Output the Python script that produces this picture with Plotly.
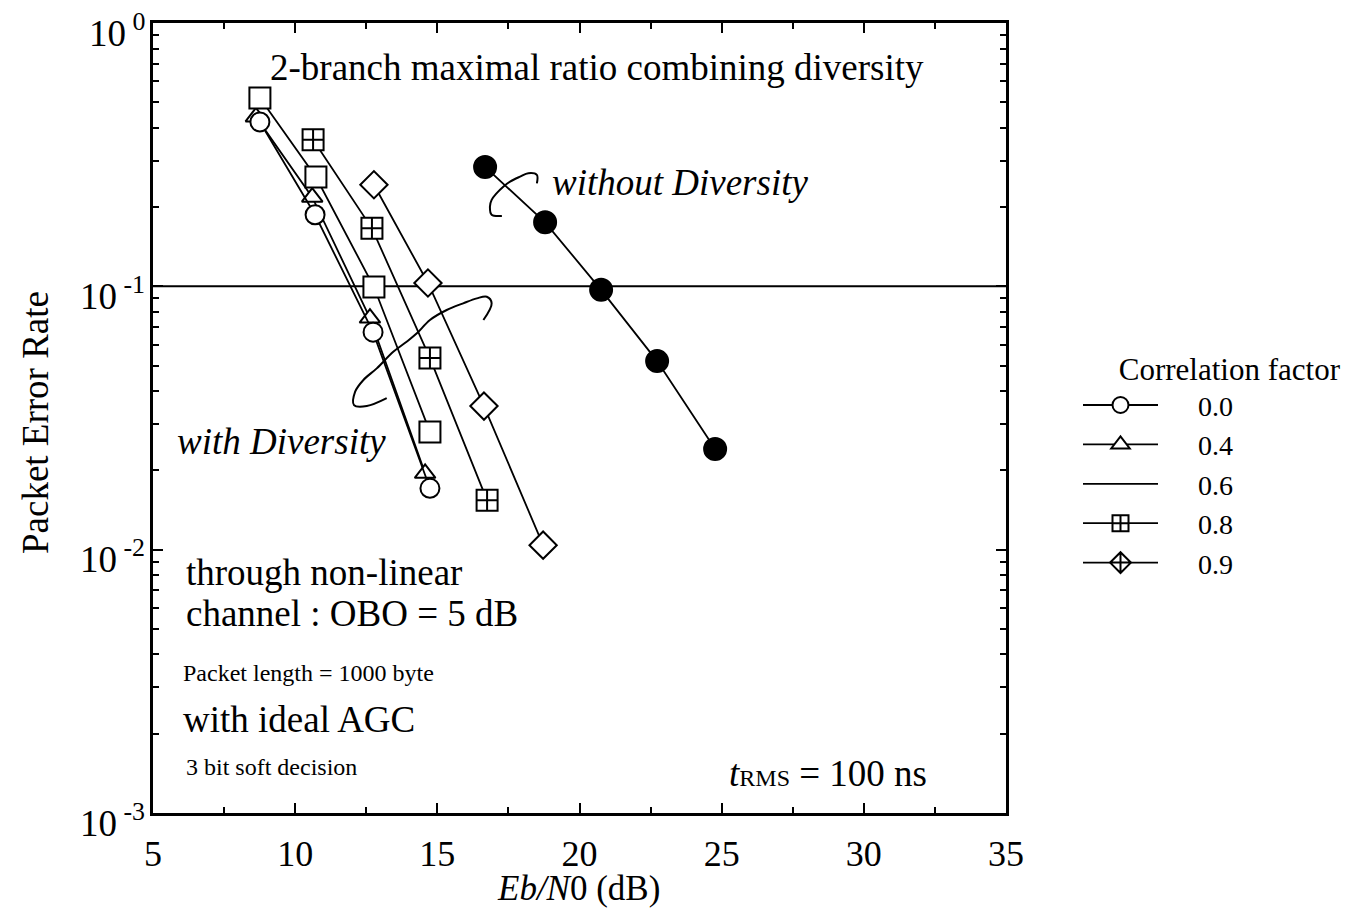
import math
import plotly.graph_objects as go

# ---------------- data ----------------
ebn0_00 = [8.76, 10.70, 12.74, 14.74]
per_00 = [0.421, 0.187, 0.067, 0.0171]

ebn0_04 = [8.62, 10.60, 12.63, 14.57]
per_04 = [0.44, 0.218, 0.0758, 0.0195]

ebn0_06 = [8.76, 10.73, 12.77, 14.74]
per_06 = [0.519, 0.26, 0.0994, 0.028]

ebn0_08 = [10.63, 12.70, 14.74, 16.75]
per_08 = [0.36, 0.166, 0.0534, 0.0154]

ebn0_09 = [12.77, 14.67, 16.64, 18.72]
per_09 = [0.243, 0.103, 0.0351, 0.0104]

ebn0_nodiv = [16.68, 18.79, 20.76, 22.73, 24.77]
per_nodiv = [0.284, 0.175, 0.097, 0.052, 0.0241]

# hand-drawn braces pointing at the curve groups
brace1_x = [18.50, 18.50, 18.20, 17.91, 17.56, 17.32, 17.09, 16.91, 16.85, 16.91, 17.27]
brace1_y = [0.246, 0.265, 0.269, 0.261, 0.250, 0.239, 0.226, 0.213, 0.201, 0.187, 0.185]
brace2_x = [16.62, 16.91, 16.74, 16.39, 15.91, 15.33, 14.74, 14.28, 13.92, 13.45,
            12.87, 12.40, 12.11, 12.07, 12.52, 13.22]
brace2_y = [0.0745, 0.0862, 0.0913, 0.090, 0.0862, 0.0813, 0.0745, 0.0663, 0.0616, 0.0564,
            0.0488, 0.0441, 0.0398, 0.0354, 0.0351, 0.0376]

legend_names = ["0.0", "0.4", "0.6", "0.8", "0.9"]
x_ticks = [5, 10, 15, 20, 25, 30, 35]
x_minor = [7.5, 12.5, 17.5, 22.5, 27.5, 32.5]
y_ticks = [1, 0.1, 0.01, 0.001]
y_ticktext = ["10<sup> 0</sup>", "10<sup> -1</sup>", "10<sup> -2</sup>", "10<sup> -3</sup>"]
y_minor = [m * 10.0 ** e for e in (-3, -2, -1) for m in range(2, 10)]

FONT = "Liberation Serif, Times New Roman, serif"
BLACK = "black"

fig = go.Figure()

LW = 1.8
MLW = 2.0


def series(x, y, symbol, size, fill="white"):
    fig.add_trace(go.Scatter(
        x=x, y=y, mode="lines+markers", showlegend=False,
        line=dict(color=BLACK, width=LW),
        marker=dict(symbol=symbol, size=size, color=fill,
                    line=dict(color=BLACK, width=MLW)),
        hoverinfo="skip"))


series(ebn0_04, per_04, "triangle-up", 18)
series(ebn0_00, per_00, "circle", 19)
series(ebn0_06, per_06, "square", 21)
series(ebn0_08, per_08, "square-cross", 21)
series(ebn0_09, per_09, "diamond", 21)
series(ebn0_nodiv, per_nodiv, "circle", 22, fill=BLACK)

for bx, by in ((brace1_x, brace1_y), (brace2_x, brace2_y)):
    fig.add_trace(go.Scatter(x=bx, y=by, mode="lines", showlegend=False,
                             line=dict(color=BLACK, width=2, shape="spline"),
                             hoverinfo="skip"))

# legend entries
PAD = "\u00a0" * 5
leg_symbols = ["circle", "triangle-up", None, "square-cross", "diamond-cross"]
for name, sym in zip(legend_names, leg_symbols):
    if sym is None:
        fig.add_trace(go.Scatter(x=[None], y=[None], mode="lines", name=PAD + name,
                                 line=dict(color=BLACK, width=LW)))
    else:
        fig.add_trace(go.Scatter(x=[None], y=[None], mode="lines+markers", name=PAD + name,
                                 line=dict(color=BLACK, width=LW),
                                 marker=dict(symbol=sym, size=20, color="white",
                                             line=dict(color=BLACK, width=MLW))))

# reference line at PER = 0.1
fig.add_shape(type="line", xref="paper", x0=0, x1=1, yref="y", y0=0.1, y1=0.1,
              line=dict(color=BLACK, width=2), layer="below")

# geometry (page body margin is removed by the post script)
W, H = 1353, 915
L, T = 153, 23
PW, PH = 853, 790
R, B = W - L - PW, H - T - PH
SX0, SY1 = L, T + PH  # plot left / bottom on screen


def px(xs):
    return (xs - SX0) / PW


def py(ys):
    return (SY1 - ys) / PH


def note(text, xs, ys, size, xanchor="left", italic=False, angle=0):
    fig.add_annotation(text=text, x=px(xs), y=py(ys), xref="paper", yref="paper",
                       showarrow=False, xanchor=xanchor, yanchor="middle", textangle=angle,
                       font=dict(family=FONT, size=size, color=BLACK,
                                 style="italic" if italic else "normal"))


BIG = 37
SMALL = 24
note("2-branch maximal ratio combining diversity", 597, 68, BIG, "center")
note("without Diversity", 680, 183, BIG, "center", italic=True)
note("with Diversity", 281, 442, BIG, "center", italic=True)
note("through non-linear", 184, 572, BIG)
note("channel : OBO = 5 dB", 184, 613, BIG)
note("Packet length = 1000 byte", 181, 673, SMALL)
note("with ideal AGC", 181, 719, BIG)
note("3 bit soft decision", 184, 767, SMALL)
note("<i>t</i><span style='font-size:24px'>RMS</span> = 100 ns", 828, 773, BIG, "center")
# axis titles
note("<i>Eb/N</i>0 (dB)", 578, 888, 35, "center")
note("Packet Error Rate", 35, 423, 37, "center", angle=-90)

# y tick labels (10^n), set slightly below the tick as in the reference
for val, txt in zip(y_ticks, y_ticktext):
    fig.add_annotation(text=txt, x=px(147), xref="paper", y=math.log10(val), yref="y",
                       xanchor="right", yanchor="middle", yshift=-7, showarrow=False,
                       font=dict(family=FONT, size=37, color=BLACK))

fig.update_layout(
    width=W, height=H,
    margin=dict(l=L, r=R, t=T, b=B, autoexpand=False),
    paper_bgcolor="white", plot_bgcolor="white",
    font=dict(family=FONT, color=BLACK, size=BIG),
    legend=dict(
        title=dict(text="\u00a0" * 5 + "Correlation factor", font=dict(size=31, family=FONT),
                   side="top"),
        font=dict(size=28, family=FONT, color=BLACK),
        x=px(1078), y=py(340), xanchor="left", yanchor="top",
        itemwidth=75, bgcolor="rgba(0,0,0,0)", tracegroupgap=0,
    ),
    xaxis=dict(
        range=[5, 35], tickvals=x_ticks, ticks="inside", ticklen=10, tickwidth=2,
        tickcolor=BLACK, showline=True, linewidth=3, linecolor=BLACK, mirror="allticks",
        showgrid=False, zeroline=False, tickfont=dict(size=36, family=FONT),
        ticklabelstandoff=7, automargin=False, ticklabeloverflow="allow",
        minor=dict(tickvals=x_minor, ticks="inside", ticklen=6, tickwidth=2, tickcolor=BLACK,
                   showgrid=False),
    ),
    yaxis=dict(
        type="log", range=[-3, 0], tickvals=y_ticks, showticklabels=False,
        ticks="inside", ticklen=10, tickwidth=2, tickcolor=BLACK,
        showline=True, linewidth=3, linecolor=BLACK, mirror="allticks",
        showgrid=False, zeroline=False, automargin=False,
        minor=dict(tickvals=y_minor, ticks="inside", ticklen=6, tickwidth=2, tickcolor=BLACK,
                   showgrid=False),
    ),
)

fig.write_html("out.html", config={"displayModeBar": False},
               post_script="document.body.style.margin='0';document.body.style.overflow='hidden';")
